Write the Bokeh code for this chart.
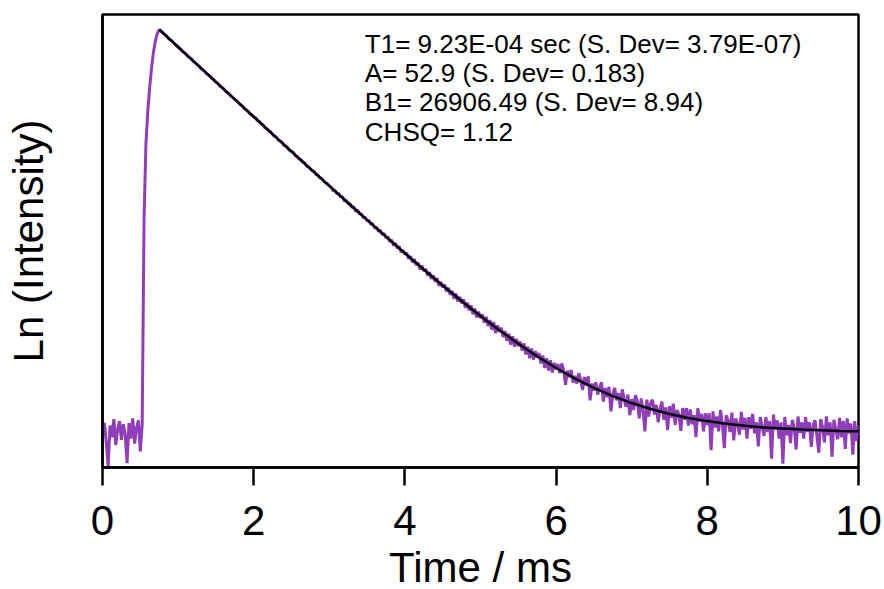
from bokeh.plotting import figure
from bokeh.models import Range1d, FixedTicker, Label, ColumnDataSource
from bokeh.embed import file_html
from bokeh.resources import INLINE

# ---------------- data ----------------
SAMPLE_MS = 0.025  # sampling interval of the recorded trace

# ln(intensity) of the recorded trace, one value per sample starting at t = 0
baseline_part = [3.95, 4.12, 3.82, 3.45, 4.08, 3.90, 4.18, 3.78, 4.02, 4.15, 3.86,
                 4.10, 3.95, 3.50, 4.12, 3.88, 4.19, 3.80, 4.05, 4.16, 3.68, 4.10]
rise_part = [7.30, 8.45, 8.95, 9.32, 9.62, 9.86, 10.03, 10.14, 10.20]
decay_part = [
    10.18, 10.15, 10.12, 10.10, 10.06, 10.04, 10.02, 9.98, 9.96, 9.93,
    9.91, 9.87, 9.85, 9.83, 9.79, 9.77, 9.75, 9.71, 9.69, 9.66,
    9.64, 9.60, 9.58, 9.56, 9.52, 9.50, 9.48, 9.44, 9.42, 9.39,
    9.37, 9.33, 9.31, 9.29, 9.25, 9.23, 9.21, 9.17, 9.15, 9.12,
    9.10, 9.07, 9.04, 9.02, 8.98, 8.96, 8.94, 8.90, 8.88, 8.85,
    8.84, 8.79, 8.78, 8.74, 8.73, 8.68, 8.67, 8.63, 8.62, 8.58,
    8.55, 8.54, 8.49, 8.48, 8.46, 8.41, 8.40, 8.37, 8.33, 8.32,
    8.30, 8.25, 8.24, 8.20, 8.19, 8.15, 8.14, 8.09, 8.08, 8.05,
    8.02, 8.01, 7.96, 7.95, 7.91, 7.90, 7.86, 7.83, 7.82, 7.78,
    7.77, 7.71, 7.72, 7.66, 7.67, 7.61, 7.62, 7.55, 7.56, 7.51,
    7.51, 7.45, 7.46, 7.39, 7.41, 7.35, 7.35, 7.29, 7.30, 7.24,
    7.25, 7.19, 7.20, 7.13, 7.15, 7.08, 7.10, 7.03, 7.05, 6.98,
    7.00, 6.92, 6.95, 6.86, 6.90, 6.82, 6.85, 6.76, 6.79, 6.73,
    6.75, 6.66, 6.70, 6.60, 6.65, 6.56, 6.60, 6.49, 6.55, 6.47,
    6.50, 6.40, 6.45, 6.35, 6.40, 6.30, 6.36, 6.24, 6.30, 6.22,
    6.26, 6.15, 6.21, 6.10, 6.16, 6.04, 6.12, 6.00, 6.07, 5.97,
    6.03, 5.90, 5.98, 5.86, 5.94, 5.80, 5.89, 5.75, 5.84, 5.74,
    5.80, 5.67, 5.76, 5.62, 5.71, 5.56, 5.68, 5.51, 5.63, 5.53,
    5.59, 5.45, 5.54, 5.39, 5.50, 5.33, 5.46, 5.30, 5.42, 5.31,
    5.38, 5.24, 5.35, 5.18, 5.30, 5.12, 5.27, 5.10, 5.23, 5.13,
    5.20, 5.04, 5.16, 4.97, 5.12, 4.93, 5.09, 4.90, 5.05, 4.95,
    5.03, 4.89, 5.04, 4.93, 4.71, 4.93, 4.83, 4.94, 4.74, 4.85,
    4.73, 4.89, 4.79, 4.63, 4.83, 4.70, 4.84, 4.47, 4.73, 4.62,
    4.75, 4.56, 4.67, 4.75, 4.45, 4.66, 4.52, 4.68, 4.30, 4.57,
    4.66, 4.47, 4.58, 4.35, 4.64, 4.49, 4.37, 4.56, 4.24, 4.49,
    4.32, 4.55, 4.45, 4.19, 4.50, 4.31, 3.99, 4.48, 4.22, 4.43,
    4.48, 4.25, 4.40, 4.13, 4.34, 4.45, 4.17, 4.36, 4.01, 4.38,
    4.20, 4.42, 4.09, 4.32, 4.25, 4.00, 4.35, 4.17, 4.35, 4.08,
    4.33, 4.10, 4.24, 3.90, 4.35, 4.14, 4.26, 3.99, 4.27, 4.09,
    4.27, 3.70, 4.30, 4.05, 4.22, 3.99, 4.32, 4.10, 3.73, 4.24,
    4.16, 3.98, 4.28, 3.85, 4.19, 4.11, 3.94, 4.29, 4.02, 4.20,
    3.88, 4.21, 4.03, 4.26, 3.96, 4.13, 3.76, 4.21, 4.07, 3.92,
    4.21, 3.98, 4.15, 3.57, 4.25, 4.02, 4.16, 3.88, 4.13, 3.49,
    4.21, 3.93, 4.09, 3.81, 4.17, 4.05, 3.71, 4.22, 3.97, 4.13,
    3.88, 4.21, 3.98, 4.13, 3.75, 4.09, 4.16, 3.92, 3.66, 4.18,
    4.05, 3.82, 4.22, 3.93, 4.13, 3.60, 4.17, 4.02, 3.87, 4.20,
    3.90, 4.15, 3.72, 4.19, 3.96, 4.11, 3.63, 4.15, 3.84, 4.08,
]
ln_signal = baseline_part + rise_part + decay_part
time_ms = [round(i * SAMPLE_MS, 3) for i in range(len(ln_signal))]

# fitted single-exponential curve (ln scale)
fit_time_ms = [0.75, 1.00, 1.25, 1.50, 1.75, 2.00, 2.25, 2.50, 2.75, 3.00,
               3.25, 3.50, 3.75, 4.00, 4.25, 4.50, 4.75, 5.00, 5.25, 5.50,
               5.75, 6.00, 6.25, 6.50, 6.75, 7.00, 7.25, 7.50, 7.75, 8.00,
               8.25, 8.50, 8.75, 9.00, 9.25, 9.50, 9.75, 10.00]
fit_ln = [10.202, 9.932, 9.662, 9.392, 9.123, 8.854, 8.585, 8.317, 8.050, 7.785,
          7.521, 7.259, 7.000, 6.744, 6.492, 6.246, 6.006, 5.775, 5.554, 5.345,
          5.150, 4.970, 4.807, 4.663, 4.536, 4.428, 4.336, 4.260, 4.198, 4.149,
          4.109, 4.077, 4.052, 4.033, 4.018, 4.006, 3.998, 3.991]

x_ticks = [0, 2, 4, 6, 8, 10]

fit_text = ["T1= 9.23E-04 sec (S. Dev= 3.79E-07)",
            "A= 52.9 (S. Dev= 0.183)",
            "B1= 26906.49 (S. Dev= 8.94)",
            "CHSQ= 1.12"]

# ---------------- figure ----------------
FONT = "Liberation Sans"

p = figure(frame_width=756, frame_height=453,
           min_border_left=102, min_border_right=26,
           min_border_top=14, min_border_bottom=122,
           x_range=Range1d(0, 10), y_range=Range1d(3.432, 10.434),
           output_backend="svg", toolbar_location=None,
           background_fill_color="white", border_fill_color="white")

p.xgrid.visible = False
p.ygrid.visible = False
p.outline_line_color = "black"
p.outline_line_width = 2.5
p.outline_line_alpha = 1.0

src = ColumnDataSource(dict(t=time_ms, y=ln_signal))
p.line("t", "y", source=src, line_color="#8F3DBB", line_width=3)
fsrc = ColumnDataSource(dict(t=fit_time_ms, y=fit_ln))
p.line("t", "y", source=fsrc, line_color="black", line_width=2.5)

# x axis
xa = p.xaxis[0]
xa.ticker = FixedTicker(ticks=x_ticks)
xa.axis_label = "Time / ms"
xa.axis_label_text_font = FONT
xa.axis_label_text_font_size = "42px"
xa.axis_label_text_font_style = "normal"
xa.axis_label_text_color = "black"
xa.axis_label_standoff = 6
xa.major_label_text_font = FONT
xa.major_label_text_font_size = "42px"
xa.major_label_text_color = "black"
xa.major_label_standoff = 20
xa.major_tick_in = 0
xa.major_tick_out = 18
xa.major_tick_line_width = 2.5
xa.minor_tick_line_color = None
xa.axis_line_width = 2.5

# y axis (no ticks)
ya = p.yaxis[0]
ya.ticker = FixedTicker(ticks=[])
ya.axis_label = "Ln (Intensity)"
ya.axis_label_text_font = FONT
ya.axis_label_text_font_size = "42px"
ya.axis_label_text_font_style = "normal"
ya.axis_label_text_color = "black"
ya.axis_label_standoff = 51
ya.major_label_text_font_size = "0px"
ya.major_tick_line_color = None
ya.minor_tick_line_color = None
ya.axis_line_width = 2.5

# fit-result annotation
for i, line in enumerate(fit_text):
    p.add_layout(Label(x=3.47, y=9.975 - i * 0.45, text=line,
                       text_font=FONT, text_font_size="26px",
                       text_color="black", text_baseline="alphabetic"))

open("out.html", "w").write(file_html(p, INLINE))
